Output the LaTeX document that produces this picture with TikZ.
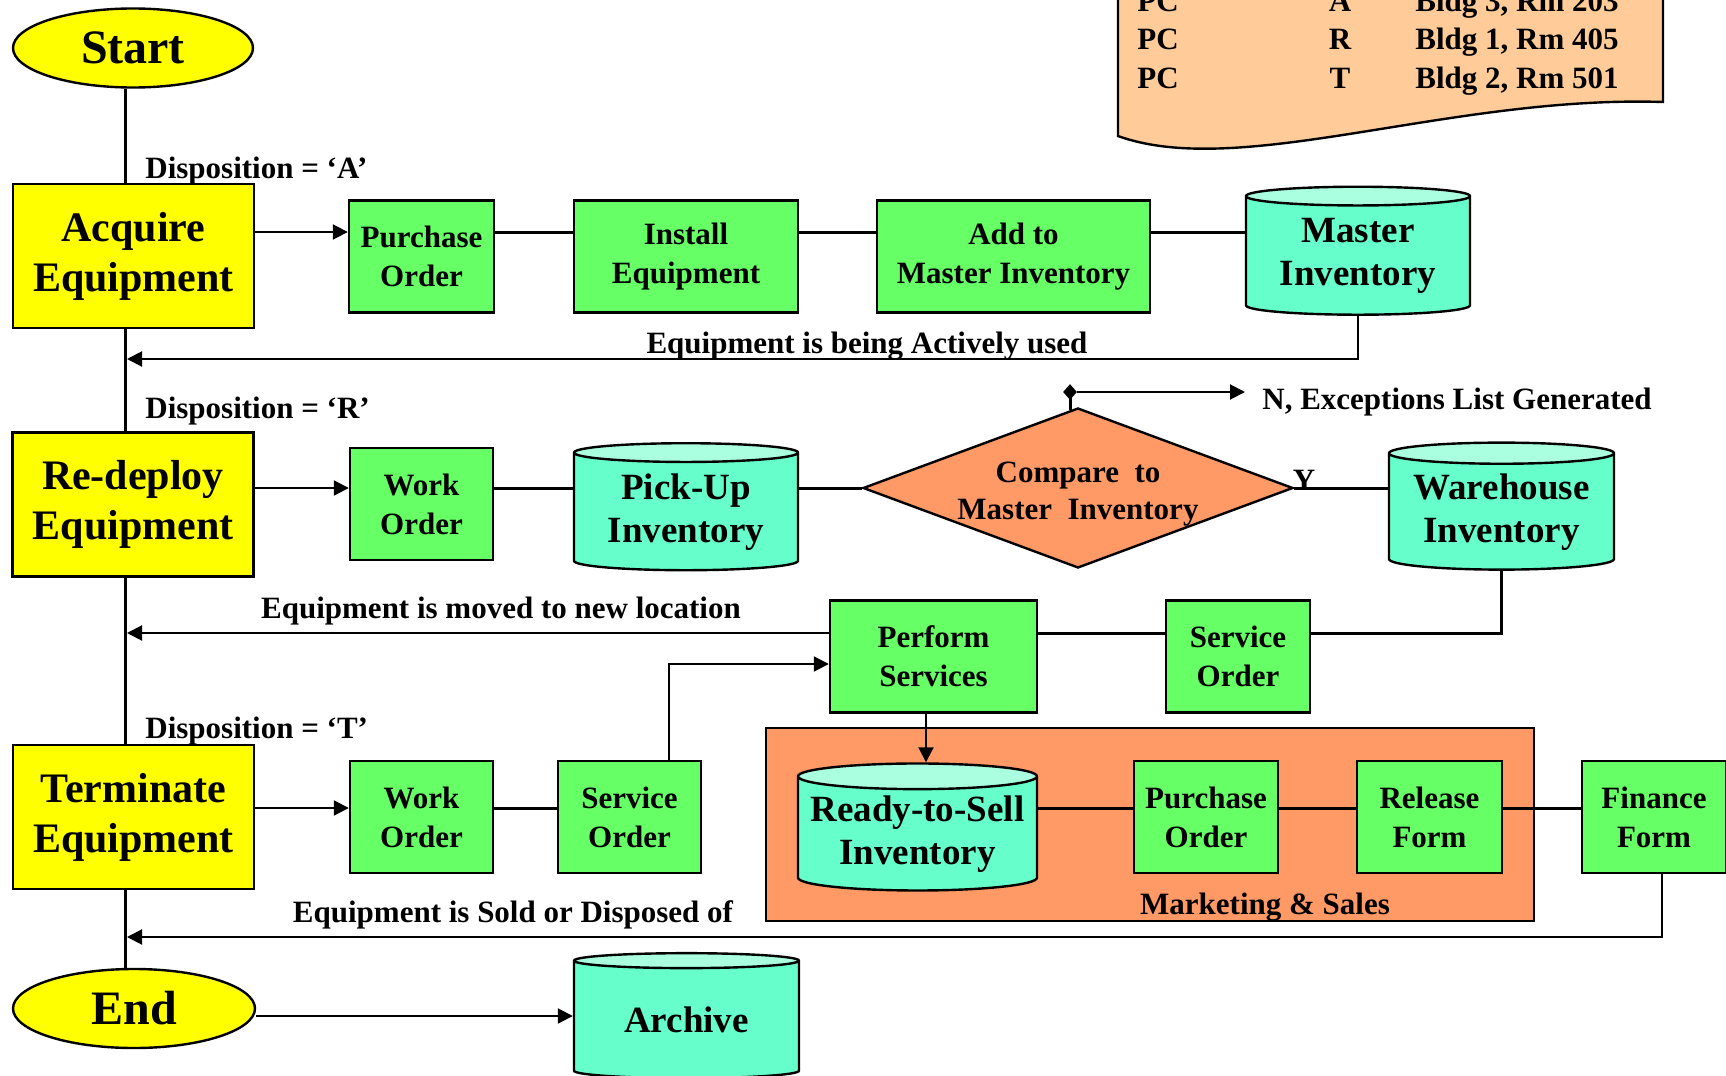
\documentclass[tikz,border=0pt]{standalone}
\usepackage{fontspec}
\setmainfont{Liberation Serif}
\usetikzlibrary{shapes.geometric,arrows.meta,positioning,calc}

\definecolor{boxyellow}{RGB}{255,255,0}
\definecolor{boxgreen}{RGB}{102,255,102}
\definecolor{storecyan}{RGB}{102,255,204}
\definecolor{storetop}{RGB}{170,255,224}
\definecolor{salesorange}{RGB}{255,153,102}
\definecolor{docpeach}{RGB}{255,204,153}

\begin{document}
\begin{tikzpicture}[x=0.5pt, y=-0.5pt,
    every node/.style={font=\bfseries},
    yellowbox/.style={draw, fill=boxyellow, line width=1.2pt, minimum width=120.5pt, minimum height=72pt, inner sep=0pt, align=center, font=\bfseries\fontsize{21}{25}\selectfont},
    terminal/.style={ellipse, draw, fill=boxyellow, line width=1.2pt, minimum width=120pt, minimum height=39.5pt, inner sep=0pt, font=\bfseries\fontsize{24}{28}\selectfont},
    greenbox/.style={draw, fill=boxgreen, line width=1.2pt, minimum height=56pt, inner sep=0pt, align=center, font=\bfseries\fontsize{15.5}{19.5}\selectfont},
    store/.style={cylinder, shape border rotate=90, aspect=0.12, draw, line width=1.2pt, cylinder uses custom fill, cylinder body fill=storecyan, cylinder end fill=storetop, minimum width=112pt, minimum height=63.5pt, inner sep=0pt, align=center, font=\bfseries\fontsize{18.5}{21.5}\selectfont},
    decision/.style={diamond, aspect=2.69, draw, fill=salesorange, line width=1.2pt, minimum width=215pt, minimum height=80pt, inner sep=0pt},
    lbl/.style={inner sep=0pt, font=\bfseries\fontsize{15.5}{18.5}\selectfont},
    line/.style={line width=1.5pt},
    arr/.style={line width=1pt, -{Triangle[length=7.5pt, width=7.5pt]}},
  ]
  \useasboundingbox (0,0) rectangle (1726,1076);
  \clip (0,0) rectangle (1726,1076);

  % Location list
  \draw[fill=docpeach, line width=1.2pt] (1118,-10) -- (1118,136) .. controls (1240,180) and (1450,95) .. (1663,102) -- (1663,-10) -- cycle;
  \foreach \ltr/\loc [count=\i] in {A/{Bldg 3, Rm 203}, R/{Bldg 1, Rm 405}, T/{Bldg 2, Rm 501}} {
    \node[lbl, anchor=base west] (pc\i) at (1137, {11+38.5*(\i-1)}) {PC};
    \node[lbl, anchor=base] (ltr\i) at (1340, {11+38.5*(\i-1)}) {\ltr};
    \node[lbl, anchor=base west] (loc\i) at (1415, {11+38.5*(\i-1)}) {\loc};
  }

  % Marketing & Sales area
  \node[draw, fill=salesorange, line width=1pt, minimum width=384pt, minimum height=96.5pt, inner sep=0pt] (sales) at (1150,824.5) {};
  \node[lbl] (salesLbl) at (1265,907) {Marketing \& Sales};

  % Disposition column
  \node[terminal] (start) at (133,48) {Start};
  \node[yellowbox] (acquire) at (133.5,256) {Acquire\\Equipment};
  \node[yellowbox] (redeploy) at (133,504.5) {Re-deploy\\Equipment};
  \node[yellowbox] (terminate) at (133.5,817) {Terminate\\Equipment};
  \node[terminal, minimum width=121pt] (end) at (134,1008.5) {End};
  \coordinate (spine) at (125,0);

  \node[lbl, anchor=west] (dispA) at (145,171) {Disposition = ‘A’};
  \node[lbl, anchor=west] (dispR) at (145,411) {Disposition = ‘R’};
  \node[lbl, anchor=west] (dispT) at (145,731) {Disposition = ‘T’};

  % Acquire row
  \node[greenbox, minimum width=72.5pt] (po1) at (421.5,256.5) {Purchase\\Order};
  \node[greenbox, minimum width=112pt] (install) at (686,256.5) {Install\\Equipment};
  \node[greenbox, minimum width=136.5pt] (addmi) at (1013.5,256.5) {Add to\\Master Inventory};
  \node[store, minimum height=64pt] (master) at (1358,256) {Master\\Inventory};
  \node[lbl] (usedLbl) at (867,346) {Equipment is being Actively used};

  % Re-deploy row
  \node[greenbox, minimum width=71.5pt] (wo1) at (421.5,504) {Work\\Order};
  \node[store] (pickup) at (686,512) {Pick-Up\\Inventory};
  \node[decision] (compare) at (1078,488) {};
  \node[lbl, align=center] (compareTxt) at (1078,494) {Compare~ to\\Master~ Inventory};
  \node[store, minimum width=112.5pt] (warehouse) at (1501.5,512) {Warehouse\\Inventory};
  \node[lbl] (yLbl) at (1304,480) {Y};
  \node[diamond, fill, inner sep=0pt, minimum width=7pt, minimum height=8pt] (nMark) at (1070,392) {};
  \node[lbl, anchor=west] (excLbl) at (1262,402) {N, Exceptions List Generated};

  % Service row
  \node[greenbox, minimum width=103.5pt] (perform) at (933.5,656.5) {Perform\\Services};
  \node[greenbox, minimum width=72pt] (so1) at (1238,656.5) {Service\\Order};
  \node[lbl] (movedLbl) at (501,611) {Equipment is moved to new location};

  % Terminate row
  \node[greenbox, minimum width=71.5pt] (wo2) at (421.5,817) {Work\\Order};
  \node[greenbox, minimum width=71.5pt] (so2) at (629.5,817) {Service\\Order};
  \node[store, minimum width=119.5pt] (ready) at (917.5,834) {Ready-to-Sell\\Inventory};
  \node[greenbox, minimum width=72pt] (po2) at (1206,817) {Purchase\\Order};
  \node[greenbox, minimum width=72.5pt] (release) at (1429.5,817) {Release\\Form};
  \node[greenbox, minimum width=72pt] (finance) at (1654,817) {Finance\\Form};
  \node[lbl] (soldLbl) at (513,915) {Equipment is Sold or Disposed of};
  \node[store, minimum width=112.5pt, minimum height=62.5pt] (archive) at (686.5,1020) {Archive};

  \coordinate (spineA) at (127,359);
  \coordinate (spineR) at (127,633);
  \coordinate (spineT) at (127,937);

  % Spine
  \draw[line] (start.south -| spine) -- (acquire.north -| spine);
  \draw[line] (acquire.south -| spine) -- (redeploy.north -| spine);
  \draw[line] (redeploy.south -| spine) -- (terminate.north -| spine);
  \draw[line] (terminate.south -| spine) -- (end.north -| spine);

  % Acquire flow
  \draw[arr] ([yshift=12pt]acquire.east) -- ([yshift=12pt]acquire.east -| po1.west);
  \draw[line] ([yshift=12pt]po1.east) -- ([yshift=12pt]po1.east -| install.west);
  \draw[line] ([yshift=12pt]install.east) -- ([yshift=12pt]install.east -| addmi.west);
  \draw[line] ([yshift=12pt]addmi.east) -- ([yshift=12pt]addmi.east -| master.west);
  \draw[arr] (master.south) |- (spineA);

  % Re-deploy flow
  \draw[arr] (redeploy.east |- compare.west) -- (wo1.west |- compare.west);
  \draw[line] (wo1.east |- compare.west) -- (pickup.west |- compare.west);
  \draw[line] (pickup.east |- compare.west) -- (compare.west);
  \draw[line] (compare.east) -- (warehouse.west |- compare.east);
  \draw[line] (nMark.center) -- ([yshift=-1.5pt]nMark.center |- compare.north);
  \draw[arr, shorten >=8.5pt] (nMark) -- (nMark -| excLbl.west);

  % Service flow
  \draw[line] (warehouse.south) |- ([yshift=11.75pt]so1.east);
  \draw[line] ([yshift=11.75pt]so1.west) -- ([yshift=11.75pt]so1.west -| perform.east);
  \draw[arr] ([yshift=11.75pt]perform.west) -- (spineR);
  \draw[arr] ([xshift=19.75pt]so2.north) |- ([yshift=-3.75pt]perform.west);
  \draw[arr] ([xshift=-3.75pt]perform.south) -- ([xshift=-3.75pt]perform.south |- ready.north);

  % Terminate flow
  \draw[arr] ([yshift=4.5pt]terminate.east) -- ([yshift=4.5pt]terminate.east -| wo2.west);
  \draw[line] ([yshift=4.5pt]wo2.east) -- ([yshift=4.5pt]wo2.east -| so2.west);
  \draw[line] ([yshift=4.5pt]po2.west -| ready.east) -- ([yshift=4.5pt]po2.west);
  \draw[line] ([yshift=4.5pt]po2.east) -- ([yshift=4.5pt]po2.east -| release.west);
  \draw[line] ([yshift=4.5pt]release.east) -- ([yshift=4.5pt]release.east -| finance.west);
  \draw[arr] ([xshift=4pt]finance.south) |- (spineT);
  \draw[arr] ([yshift=-3.75pt]end.east) -- ([yshift=-3.75pt]end.east -| archive.west);
\end{tikzpicture}
\end{document}
